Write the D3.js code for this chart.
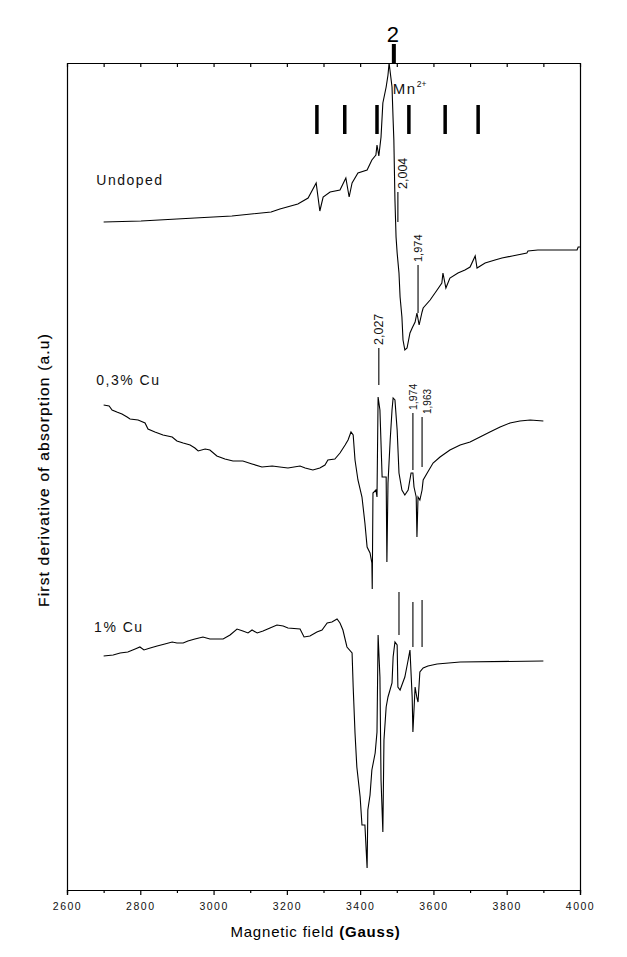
<!DOCTYPE html>
<html>
<head>
<meta charset="utf-8">
<script src="https://cdn.jsdelivr.net/npm/d3@7"></script>
<style>
  body { margin: 0; background: #fff; }
  svg { display: block; font-family: "Liberation Sans", Arial, sans-serif; }
</style>
</head>
<body>
<svg id="epr-chart"></svg>
<script>
// Magnetic field (Gauss) and first derivative signal (a.u.) for each sample
const fieldUndoped = [2700, 2802, 2851, 2949, 3050, 3157, 3181, 3230, 3258, 3280, 3290, 3299, 3318, 3345, 3361, 3370, 3378, 3394, 3419, 3432, 3443, 3446, 3451, 3457, 3462, 3471, 3476, 3479, 3487, 3490, 3492, 3495, 3498, 3501, 3506, 3509, 3514, 3517, 3522, 3528, 3536, 3542, 3550, 3555, 3561, 3569, 3572, 3591, 3610, 3623, 3626, 3634, 3645, 3667, 3686, 3700, 3714, 3719, 3741, 3768, 3787, 3815, 3855, 3858, 3885, 3992, 3995, 4000];
const signalUndoped = [668, 669, 670, 672, 674, 678, 681, 686, 692, 707, 679, 693, 698, 700, 712, 693, 707, 717, 720, 730, 735, 745, 734, 753, 787, 803, 815, 827, 803, 770, 750, 690, 653, 637, 617, 593, 573, 550, 540, 542, 557, 562, 568, 577, 565, 578, 582, 590, 600, 607, 617, 602, 612, 617, 620, 623, 634, 622, 627, 630, 632, 634, 637, 639, 640, 640, 643, 643];

const fieldCu03 = [2700, 2715, 2723, 2736, 2750, 2764, 2772, 2794, 2813, 2821, 2840, 2862, 2887, 2900, 2917, 2936, 2949, 2958, 2977, 2990, 3009, 3031, 3053, 3080, 3105, 3132, 3160, 3181, 3203, 3236, 3250, 3271, 3290, 3304, 3312, 3331, 3345, 3359, 3367, 3375, 3381, 3386, 3394, 3405, 3413, 3419, 3427, 3432, 3433, 3435, 3443, 3446, 3449, 3454, 3460, 3471, 3473, 3476, 3482, 3487, 3490, 3495, 3501, 3506, 3514, 3522, 3531, 3539, 3544, 3547, 3553, 3555, 3558, 3563, 3569, 3572, 3583, 3599, 3618, 3645, 3673, 3700, 3727, 3754, 3782, 3809, 3836, 3864, 3900];
const signalCu03 = [485, 484, 480, 478, 476, 473, 471, 470, 467, 461, 458, 455, 453, 449, 447, 445, 442, 439, 441, 440, 434, 431, 429, 429, 426, 423, 424, 423, 422, 424, 422, 420, 422, 425, 430, 431, 437, 445, 450, 458, 455, 430, 410, 393, 367, 343, 337, 327, 301, 397, 400, 393, 493, 480, 413, 413, 328, 407, 450, 480, 492, 490, 460, 417, 400, 395, 400, 417, 417, 403, 393, 353, 393, 390, 400, 410, 417, 427, 433, 440, 445, 448, 453, 458, 463, 467, 469, 470, 469];

const fieldCu1 = [2700, 2726, 2745, 2766, 2786, 2799, 2810, 2827, 2846, 2867, 2887, 2900, 2917, 2930, 2949, 2971, 2990, 3026, 3045, 3064, 3080, 3094, 3105, 3119, 3135, 3154, 3173, 3190, 3203, 3236, 3247, 3263, 3282, 3296, 3310, 3323, 3337, 3345, 3353, 3364, 3378, 3381, 3386, 3391, 3400, 3405, 3413, 3419, 3421, 3427, 3432, 3441, 3446, 3449, 3454, 3457, 3462, 3465, 3471, 3476, 3487, 3490, 3495, 3501, 3503, 3509, 3514, 3522, 3531, 3536, 3542, 3544, 3550, 3555, 3558, 3563, 3572, 3585, 3610, 3673, 3900];
const signalCu1 = [234, 235, 237, 238, 241, 243, 240, 242, 244, 246, 248, 247, 247, 249, 251, 253, 251, 251, 255, 261, 259, 257, 260, 257, 259, 262, 265, 264, 262, 261, 253, 254, 258, 260, 267, 268, 271, 267, 260, 243, 237, 203, 157, 123, 93, 65, 65, 22, 80, 95, 120, 137, 158, 255, 213, 110, 58, 150, 183, 193, 207, 233, 248, 245, 203, 200, 205, 213, 230, 240, 193, 158, 203, 192, 188, 218, 222, 224, 226, 228, 229];

// Sample names
const sampleNames = ["Undoped", "0,3% Cu", "1% Cu"];

// g-value marker lines (field, lower and upper signal) with labels
const markFieldUndoped = [3503, 3558];
const markLowUndoped = [668, 577];
const markHighUndoped = [698, 625];
const markLabelUndoped = ["2,004", "1,974"];

const markFieldCu03 = [3451, 3544, 3569];
const markLowCu03 = [505, 420, 423];
const markHighCu03 = [542, 477, 473];
const markLabelCu03 = ["2,027", "1,974", "1,963"];

const markFieldCu1 = [3506, 3544, 3569];
const markLowCu1 = [255, 243, 243];
const markHighCu1 = [298, 288, 290];

// Mn2+ hyperfine sextet and free-electron g marker
const mnLineField = [3282, 3358, 3446, 3533, 3632, 3722];
const mnLineLow = 756;
const mnLineHigh = 785;
const gMarkerField = 3492;

// Axis ticks
const majorTicks = [2600, 2800, 3000, 3200, 3400, 3600, 3800, 4000];
const minorTicks = [2700, 2900, 3100, 3300, 3500, 3700, 3900];
const allTicks = majorTicks.concat(minorTicks).sort((a, b) => a - b);

document.addEventListener('DOMContentLoaded', function () {
    drawEprChart('epr-chart');
});

function drawEprChart(containerId) {
    const svgWidth = 627;
    const svgHeight = 957;
    const margin = { top: 63, right: 47, bottom: 67, left: 67 };
    const width = svgWidth - margin.left - margin.right;
    const height = svgHeight - margin.top - margin.bottom;

    const root = d3.select(`#${containerId}`)
        .attr("width", svgWidth)
        .attr("height", svgHeight)
        .attr("viewBox", `0 0 ${svgWidth} ${svgHeight}`);

    root.append("rect")
        .attr("width", svgWidth)
        .attr("height", svgHeight)
        .attr("fill", "#fff");

    const svg = root.append("g")
        .attr("transform", `translate(${margin.left},${margin.top})`);

    const x = d3.scaleLinear().domain([2600, 4000]).range([0, width]);
    const y = d3.scaleLinear().domain([0, 827]).range([height, 0]);

    // Bottom axis with labels, then minor ticks
    const bottom = svg.append("g")
        .attr("class", "axis x-axis")
        .attr("transform", `translate(0,${height})`)
        .call(d3.axisBottom(x)
            .tickValues(majorTicks)
            .tickSize(5)
            .tickPadding(8)
            .tickFormat(d3.format("d")));
    bottom.selectAll("text")
        .attr("font-size", 10.5)
        .attr("letter-spacing", "1.5px")
        .attr("fill", "#111");

    svg.append("g")
        .attr("class", "axis x-minor")
        .attr("transform", `translate(0,${height})`)
        .call(d3.axisBottom(x)
            .tickValues(minorTicks)
            .tickSize(3)
            .tickFormat(""));

    // Top axis: inward ticks every 100 G, no labels
    svg.append("g")
        .attr("class", "axis top-axis")
        .call(d3.axisTop(x)
            .tickValues(allTicks)
            .tickSizeInner(-4)
            .tickSizeOuter(0)
            .tickFormat(""));

    // Left and right frame lines
    svg.append("g")
        .attr("class", "axis y-axis")
        .call(d3.axisLeft(y).tickValues([]).tickSize(0).tickFormat(""));
    svg.append("g")
        .attr("class", "axis right-axis")
        .attr("transform", `translate(${width},0)`)
        .call(d3.axisRight(y).tickValues([]).tickSize(0).tickFormat(""));

    svg.selectAll(".axis path, .axis line")
        .attr("stroke", "#000")
        .attr("stroke-width", 1.2);

    // Axis titles
    const xTitle = svg.append("text")
        .attr("x", width / 2 - 8)
        .attr("y", height + 47)
        .attr("text-anchor", "middle")
        .attr("font-size", 15)
        .attr("letter-spacing", "0.8px")
        .attr("fill", "#000");
    xTitle.append("tspan").text("Magnetic field ");
    xTitle.append("tspan").attr("font-weight", "bold").text("(Gauss)");

    svg.append("text")
        .attr("transform", "rotate(-90)")
        .attr("x", -(470 - margin.top))
        .attr("y", -18)
        .attr("text-anchor", "middle")
        .attr("font-size", 15.5)
        .attr("letter-spacing", "1.2px")
        .attr("fill", "#000")
        .attr("stroke", "#000")
        .attr("stroke-width", 0.2)
        .text("First derivative of absorption (a.u)");

    // Spectra
    const line = d3.line()
        .x(d => x(d.field))
        .y(d => y(d.signal));

    const series = [
        [fieldUndoped, signalUndoped],
        [fieldCu03, signalCu03],
        [fieldCu1, signalCu1]
    ];

    series.forEach(([f, s]) => {
        svg.append("path")
            .datum(f.map((v, i) => ({ field: v, signal: s[i] })))
            .attr("fill", "none")
            .attr("stroke", "#000")
            .attr("stroke-width", 1.1)
            .attr("stroke-linejoin", "miter")
            .attr("d", line);
    });

    // Sample labels
    const labelSpots = [[2680, 705], [2680, 505], [2674, 258]];
    sampleNames.forEach((name, i) => {
        svg.append("text")
            .attr("x", x(labelSpots[i][0]))
            .attr("y", y(labelSpots[i][1]))
            .attr("font-size", 14)
            .attr("letter-spacing", "1.5px")
            .attr("fill", "#111")
            .text(name);
    });

    // Marker lines
    function drawMarks(fields, lows, highs) {
        svg.append("g")
            .selectAll("line")
            .data(fields)
            .join("line")
            .attr("x1", d => x(d))
            .attr("x2", d => x(d))
            .attr("y1", (d, i) => y(lows[i]))
            .attr("y2", (d, i) => y(highs[i]))
            .attr("stroke", "#000")
            .attr("stroke-width", 1.1);
    }
    drawMarks(markFieldUndoped, markLowUndoped, markHighUndoped);
    drawMarks(markFieldCu03, markLowCu03, markHighCu03);
    drawMarks(markFieldCu1, markLowCu1, markHighCu1);

    // Rotated g-value labels
    function drawMarkLabels(fields, highs, labels, dx, sizes) {
        labels.forEach((t, i) => {
            const px = x(fields[i]) + dx[i];
            const py = y(highs[i]) - 3;
            svg.append("text")
                .attr("transform", `translate(${px},${py}) rotate(-90)`)
                .attr("dominant-baseline", "central")
                .attr("font-size", sizes[i])
                .attr("fill", "#111")
                .text(t);
        });
    }
    drawMarkLabels(markFieldUndoped, markHighUndoped, markLabelUndoped, [5, 0], [12.5, 11]);
    drawMarkLabels(markFieldCu03, markHighCu03, markLabelCu03, [0, 0, 5], [12.5, 10.5, 10]);

    // Mn2+ sextet bars
    svg.append("g")
        .selectAll("line")
        .data(mnLineField)
        .join("line")
        .attr("x1", d => x(d))
        .attr("x2", d => x(d))
        .attr("y1", y(mnLineLow))
        .attr("y2", y(mnLineHigh))
        .attr("stroke", "#000")
        .attr("stroke-width", 3.5);

    const mn = svg.append("text")
        .attr("x", x(gMarkerField) - 1)
        .attr("y", y(796))
        .attr("font-size", 15)
        .attr("letter-spacing", "1.5px")
        .attr("fill", "#111");
    mn.append("tspan").text("Mn");
    mn.append("tspan")
        .attr("font-size", 8.5)
        .attr("dy", -7)
        .attr("letter-spacing", "0px")
        .text("2+");

    // g = 2 marker above the frame
    svg.append("line")
        .attr("x1", x(gMarkerField))
        .attr("x2", x(gMarkerField))
        .attr("y1", 0)
        .attr("y2", -19)
        .attr("stroke", "#000")
        .attr("stroke-width", 4);

    svg.append("text")
        .attr("x", x(gMarkerField) - 1)
        .attr("y", -21)
        .attr("text-anchor", "middle")
        .attr("font-size", 22)
        .attr("fill", "#000")
        .text("2");
}
</script>
</body>
</html>
